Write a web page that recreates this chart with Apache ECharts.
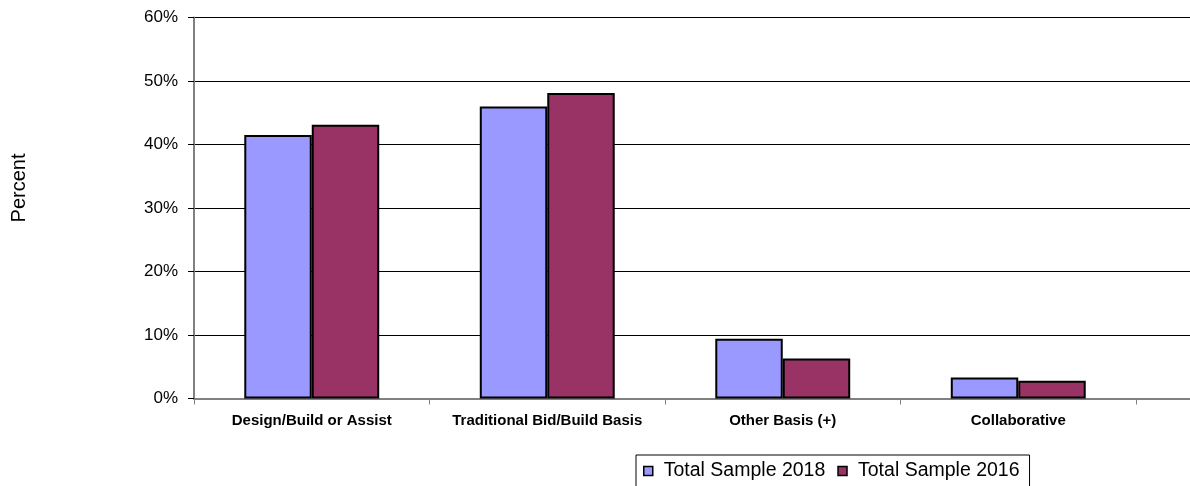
<!DOCTYPE html>
<html>
<head>
<meta charset="utf-8">
<script src="https://cdn.jsdelivr.net/npm/echarts@6/dist/echarts.min.js"></script>
<style>
html,body{margin:0;padding:0;background:#fff;}
#c{width:1190px;height:486px;}
</style>
</head>
<body>
<div id="c"></div>
<script>
var categories = ['Design/Build or Assist', 'Traditional Bid/Build Basis', 'Other Basis (+)', 'Collaborative'];
var seriesNames = ['Total Sample 2018', 'Total Sample 2016'];
var values2018 = [41.5, 46.0, 9.4, 3.3];
var values2016 = [43.1, 48.1, 6.3, 2.8];
var yTicks = [0, 10, 20, 30, 40, 50, 60];

var FONT = '"Liberation Sans", Arial, sans-serif';
var chart = echarts.init(document.getElementById('c'), null, {renderer: 'canvas'});
var gridTop = 17.5, gridBottom = 87.5;

chart.setOption({
  animation: false,
  backgroundColor: '#ffffff',
  textStyle: {fontFamily: FONT},
  grid: [
    {left: 194, right: 54, top: gridTop, bottom: gridBottom},
    {left: 1136, right: 0, top: gridTop, bottom: gridBottom}
  ],
  legend: {
    data: seriesNames,
    left: 636, top: 455,
    orient: 'horizontal',
    icon: 'rect',
    itemWidth: 9, itemHeight: 9,
    itemGap: 12,
    padding: [6, 10, 8, 7],
    borderColor: '#000', borderWidth: 1,
    backgroundColor: '#fff',
    textStyle: {fontFamily: FONT, fontSize: 19.5, color: '#000', padding: [0, 0, 0, 6]},
    itemStyle: {borderColor: '#000', borderWidth: 1.5}
  },
  xAxis: [
    {
      type: 'category', gridIndex: 0, data: categories,
      boundaryGap: true,
      axisLine: {show: true, lineStyle: {color: '#808080', width: 2}},
      axisTick: {show: true, inside: false, length: 6, alignWithLabel: false, lineStyle: {color: '#808080', width: 1}},
      axisLabel: {fontFamily: FONT, fontSize: 15, fontWeight: 'bold', color: '#000', margin: 15, interval: 0},
      splitLine: {show: false}
    },
    {
      type: 'value', gridIndex: 1, min: 0, max: 1,
      axisLine: {show: true, onZero: false, lineStyle: {color: '#808080', width: 2}},
      axisTick: {show: false}, axisLabel: {show: false}, splitLine: {show: false}
    }
  ],
  yAxis: [
    {
      type: 'value', gridIndex: 0, min: yTicks[0], max: yTicks[yTicks.length - 1], interval: 10,
      axisLine: {show: true, lineStyle: {color: '#808080', width: 2}},
      axisTick: {show: true, inside: false, length: 6, lineStyle: {color: '#000', width: 1}},
      axisLabel: {fontFamily: FONT, fontSize: 17, color: '#000', margin: 16, formatter: function (v) { return v + '%'; }},
      splitLine: {show: true, lineStyle: {color: '#000', width: 1}}
    },
    {
      type: 'value', gridIndex: 1, min: yTicks[0], max: yTicks[yTicks.length - 1], interval: 10,
      axisLine: {show: false}, axisTick: {show: false}, axisLabel: {show: false},
      splitLine: {show: true, lineStyle: {color: '#000', width: 1}}
    }
  ],
  graphic: [{
    type: 'text',
    x: 19, y: 188,
    rotation: Math.PI / 2,
    style: {text: 'Percent', fill: '#000', font: '20px ' + FONT, textAlign: 'center', textVerticalAlign: 'middle'}
  }],
  series: [
    {
      name: seriesNames[0], type: 'bar', xAxisIndex: 0, yAxisIndex: 0,
      data: values2018,
      barGap: '0%', barCategoryGap: '42.7%',
      itemStyle: {color: '#9999FF', borderColor: '#000', borderWidth: 2}
    },
    {
      name: seriesNames[1], type: 'bar', xAxisIndex: 0, yAxisIndex: 0,
      data: values2016,
      barGap: '0%', barCategoryGap: '42.7%',
      itemStyle: {color: '#993366', borderColor: '#000', borderWidth: 2}
    }
  ]
});
</script>
</body>
</html>
